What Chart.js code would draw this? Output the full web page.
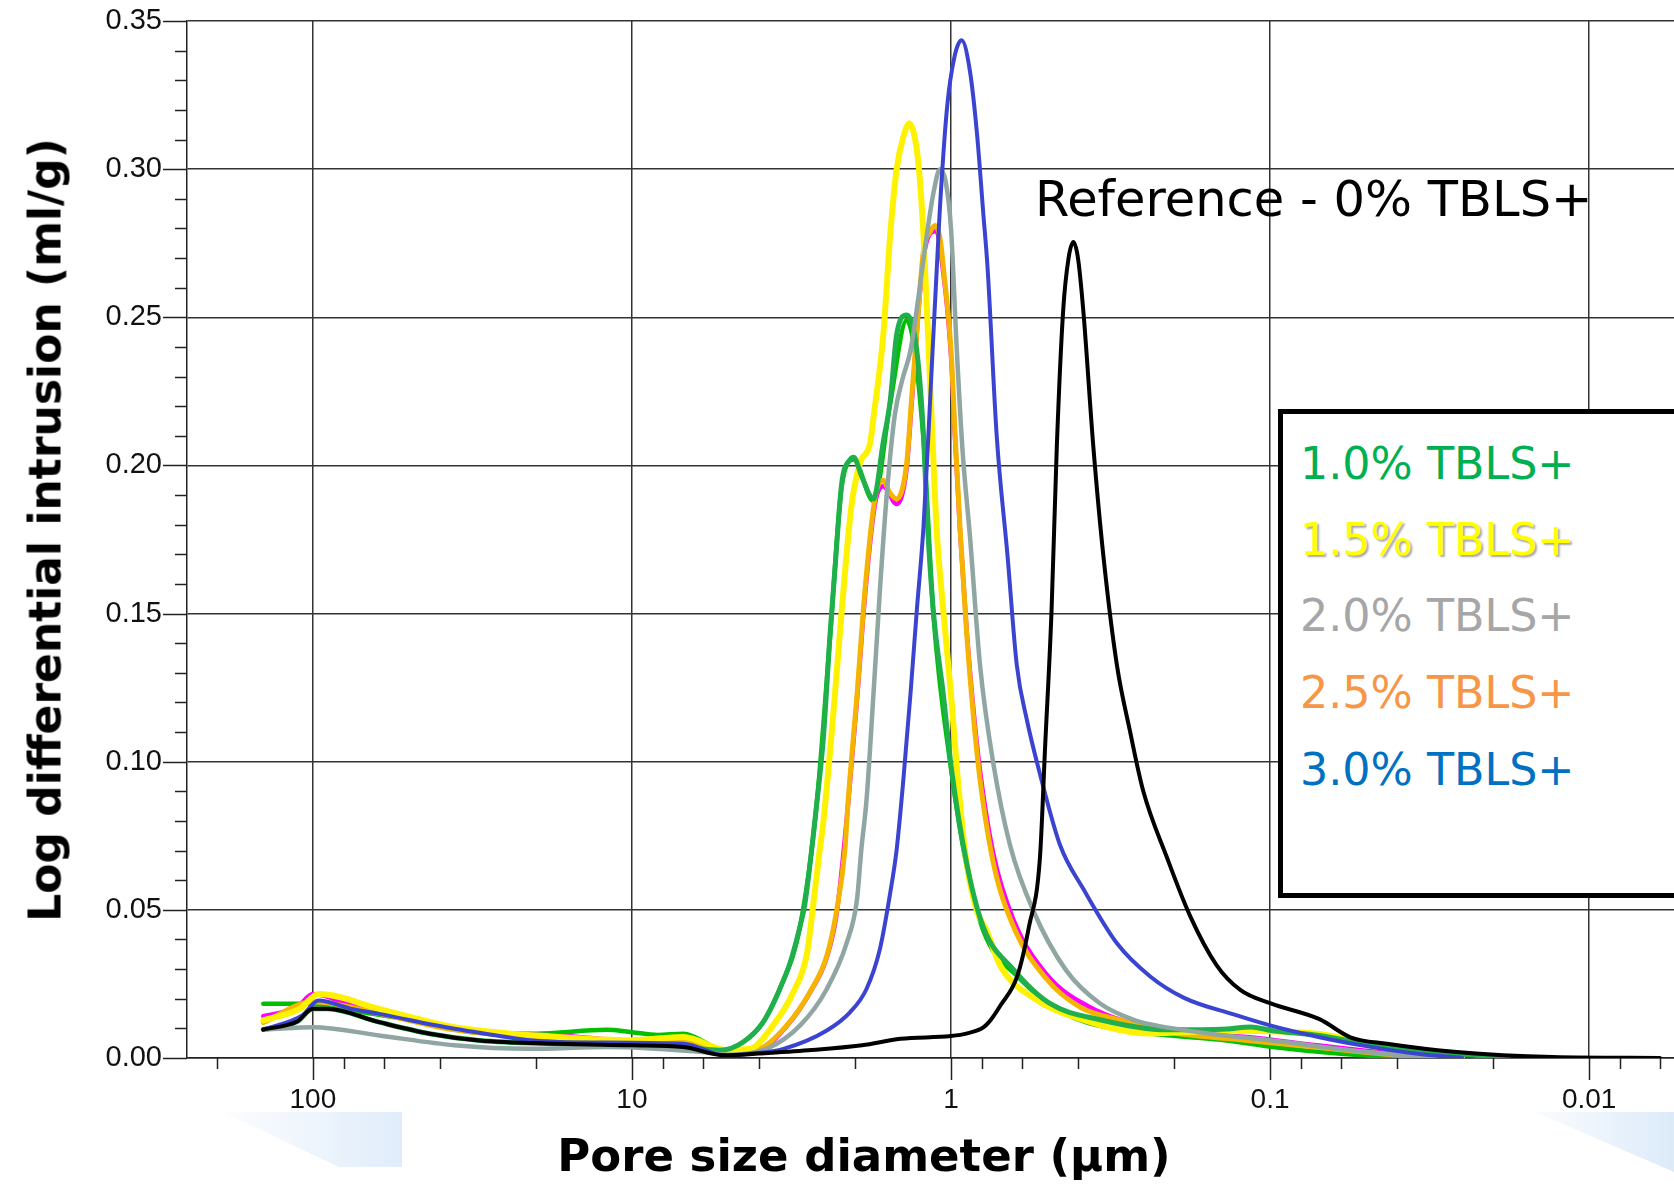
<!DOCTYPE html>
<html>
<head>
<meta charset="utf-8">
<script src="https://cdn.jsdelivr.net/npm/chart.js@4.4.1/dist/chart.umd.min.js"></script>
<style>
  html, body { margin: 0; padding: 0; background: #fff; overflow: hidden; }
  #wrap { position: relative; width: 1674px; height: 1186px; overflow: hidden; }
  #chart { position: absolute; left: 0; top: 0; }
  .deco { position: absolute; }
  .ytitle { position: absolute; left: 45px; top: 530px; transform: translate(-50%, -50%) rotate(-90deg);
            white-space: nowrap; font: bold 44px "DejaVu Sans", sans-serif; color: #000; }
  .xtitle { position: absolute; left: 864px; top: 1155px; transform: translate(-50%, -50%);
            white-space: nowrap; font: bold 45px "DejaVu Sans", sans-serif; color: #000; }
  .note { position: absolute; left: 1035px; top: 175px; white-space: nowrap;
          font: 49.5px/49.5px "DejaVu Sans", sans-serif; color: #000; }
  .legend-box { position: absolute; left: 1278px; top: 409px; width: 500px; height: 489px;
                box-sizing: border-box; border: 5px solid #000; background: #fff; }
  .legend-item { position: absolute; left: 1300px; white-space: nowrap; font: 44.4px/44.4px "DejaVu Sans", sans-serif; }
</style>
</head>
<body>
<div id="wrap">
  <div class="deco" style="left:222px;top:1112px;width:180px;height:55px;
       background:linear-gradient(90deg, rgba(225,238,250,0.1), rgba(218,233,249,0.85));
       clip-path:polygon(0 0,100% 0,100% 100%,65% 100%);"></div>
  <div class="deco" style="left:1535px;top:1112px;width:139px;height:60px;
       background:linear-gradient(90deg, rgba(225,238,250,0.15), rgba(214,231,248,0.85));
       clip-path:polygon(0 0,100% 0,100% 100%);"></div>
  <canvas id="chart" width="1674" height="1186"></canvas>
  <div class="ytitle">Log differential intrusion (ml/g)</div>
  <div class="xtitle">Pore size diameter (µm)</div>
  <div class="note">Reference - 0% TBLS+</div>
  <div class="legend-box"></div>
  <div class="legend-item" style="top:442px;color:#00B050;">1.0% TBLS+</div>
  <div class="legend-item" style="top:518px;color:#FFFF00;text-shadow:2px 2px 2px rgba(0,0,0,0.35);">1.5% TBLS+</div>
  <div class="legend-item" style="top:594px;color:#A6A6A6;">2.0% TBLS+</div>
  <div class="legend-item" style="top:671px;color:#F79646;">2.5% TBLS+</div>
  <div class="legend-item" style="top:748px;color:#0070C0;">3.0% TBLS+</div>
</div>
<script>
// pore diameters in µm (descending) and log differential intrusion in ml/g
const refDiam = [143, 112, 100, 90, 62, 43, 30, 17, 10, 6.9, 5.1, 4.0, 2.8, 1.9, 1.44, 1.0, 0.89, 0.79, 0.75, 0.70, 0.62, 0.57, 0.526, 0.507, 0.484, 0.466, 0.445, 0.428, 0.4135, 0.40, 0.385, 0.358, 0.333, 0.302, 0.275, 0.250, 0.211, 0.178, 0.147, 0.124, 0.100, 0.070, 0.056, 0.043, 0.026, 0.013, 0.006];
const refVals = [0.0096, 0.0123, 0.0166, 0.0166, 0.0121, 0.0082, 0.0059, 0.0048, 0.0043, 0.0037, 0.0009, 0.0015, 0.0026, 0.0043, 0.0065, 0.0074, 0.0083, 0.0104, 0.0129, 0.0177, 0.0276, 0.0442, 0.068, 0.105, 0.151, 0.2063, 0.2524, 0.270, 0.2754, 0.270, 0.2524, 0.2063, 0.1695, 0.1326, 0.1105, 0.0903, 0.068, 0.0479, 0.0313, 0.023, 0.0185, 0.0131, 0.007, 0.0048, 0.002, 0.0003, 0];

const tbls30Diam = [143, 108, 96, 75, 62, 36, 17, 6.9, 5.1, 4.2, 3.35, 2.45, 2.07, 1.84, 1.67, 1.55, 1.48, 1.41, 1.34, 1.28, 1.22, 1.174, 1.086, 1.029, 0.975, 0.926, 0.872, 0.829, 0.792, 0.768, 0.719, 0.665, 0.622, 0.578, 0.526, 0.455, 0.385, 0.302, 0.238, 0.186, 0.130, 0.100, 0.070, 0.050, 0.035, 0.025];
const tbls30Vals = [0.0096, 0.0144, 0.0194, 0.0165, 0.0149, 0.0099, 0.0054, 0.0048, 0.0009, 0.0015, 0.0031, 0.0093, 0.0155, 0.0233, 0.0368, 0.0558, 0.0704, 0.094, 0.1227, 0.151, 0.179, 0.2127, 0.2847, 0.3207, 0.338, 0.3435, 0.333, 0.312, 0.285, 0.2667, 0.21, 0.1695, 0.1326, 0.114, 0.0958, 0.0718, 0.0571, 0.0387, 0.0276, 0.0203, 0.0147, 0.011, 0.007, 0.004, 0.0015, 0];

const tbls20Diam = [139, 100, 62, 36, 21, 12, 5.7, 5.0, 3.78, 2.97, 2.45, 2.12, 1.97, 1.91, 1.84, 1.75, 1.67, 1.59, 1.50, 1.42, 1.34, 1.26, 1.19, 1.13, 1.083, 1.04, 1.0, 0.96, 0.92, 0.872, 0.811, 0.737, 0.653, 0.552, 0.435, 0.341, 0.268, 0.241, 0.15, 0.10, 0.05, 0.03];
const tbls20Vals = [0.0096, 0.0104, 0.0076, 0.0043, 0.0031, 0.0037, 0.0018, 0.0011, 0.0031, 0.011, 0.0233, 0.039, 0.0536, 0.0704, 0.087, 0.1227, 0.158, 0.19, 0.217, 0.229, 0.2387, 0.258, 0.278, 0.293, 0.300, 0.296, 0.28, 0.24, 0.205, 0.176, 0.1326, 0.0995, 0.0718, 0.0497, 0.0295, 0.0184, 0.0129, 0.0115, 0.008, 0.006, 0.002, 0];

const tbls10Diam = [143, 112, 100, 90, 62, 43, 30, 17, 10, 6.9, 5.3, 4.48, 3.88, 3.44, 3.19, 2.97, 2.87, 2.64, 2.51, 2.39, 2.31, 2.20, 2.07, 2.02, 1.90, 1.75, 1.63, 1.55, 1.48, 1.377, 1.28, 1.22, 1.19, 1.136, 1.057, 0.995, 0.894, 0.792, 0.639, 0.49, 0.341, 0.211, 0.137, 0.115, 0.098, 0.070, 0.0507, 0.0364, 0.0228, 0.018];
const tbls10Vals = [0.0096, 0.0123, 0.0166, 0.0166, 0.0121, 0.0082, 0.0059, 0.0048, 0.0043, 0.0037, 0.0026, 0.0054, 0.0121, 0.0233, 0.0323, 0.0446, 0.052, 0.085, 0.1085, 0.144, 0.165, 0.194, 0.202, 0.2028, 0.196, 0.1887, 0.208, 0.222, 0.2442, 0.2508, 0.2388, 0.2106, 0.184, 0.151, 0.1227, 0.097, 0.066, 0.0442, 0.030, 0.0184, 0.0129, 0.0095, 0.0098, 0.0105, 0.0092, 0.0076, 0.0048, 0.0026, 0.0009, 0];

const tbls15Diam = [143, 110, 96, 62, 36, 17, 10, 6.9, 5.0, 4.26, 3.61, 3.12, 2.83, 2.70, 2.58, 2.51, 2.34, 2.20, 2.05, 1.93, 1.79, 1.75, 1.63, 1.55, 1.48, 1.41, 1.35, 1.30, 1.26, 1.22, 1.18, 1.15, 1.11, 1.057, 1.0, 0.952, 0.894, 0.83, 0.773, 0.702, 0.552, 0.385, 0.238, 0.137, 0.07, 0.05, 0.03, 0.025];
const tbls15Vals = [0.0127, 0.0166, 0.0216, 0.0166, 0.0104, 0.0071, 0.006, 0.0071, 0.0026, 0.0031, 0.011, 0.0222, 0.035, 0.052, 0.07, 0.080, 0.1156, 0.151, 0.1865, 0.2007, 0.2078, 0.216, 0.244, 0.278, 0.300, 0.311, 0.3154, 0.311, 0.300, 0.278, 0.244, 0.216, 0.179, 0.151, 0.1227, 0.094, 0.066, 0.0497, 0.043, 0.0313, 0.0203, 0.0129, 0.0083, 0.0092, 0.0081, 0.0048, 0.001, 0];

const tbls25Diam = [143, 100, 62, 36, 17, 10, 6.9, 5.1, 3.97, 3.27, 2.77, 2.45, 2.28, 2.15, 2.10, 1.97, 1.86, 1.73, 1.63, 1.56, 1.48, 1.377, 1.33, 1.28, 1.22, 1.16, 1.12, 1.08, 1.057, 1.0, 0.971, 0.937, 0.894, 0.851, 0.811, 0.737, 0.639, 0.5, 0.394, 0.3, 0.2, 0.12, 0.07, 0.04, 0.025];
const tbls25Vals = [0.012, 0.019, 0.015, 0.0095, 0.0065, 0.0055, 0.0055, 0.0015, 0.0031, 0.011, 0.0222, 0.0345, 0.05, 0.0704, 0.087, 0.1227, 0.158, 0.189, 0.195, 0.191, 0.1887, 0.2007, 0.222, 0.245, 0.2724, 0.279, 0.281, 0.276, 0.267, 0.239, 0.2106, 0.179, 0.144, 0.1156, 0.094, 0.066, 0.0447, 0.0265, 0.0172, 0.013, 0.0085, 0.006, 0.0035, 0.001, 0];

// unlabelled replicate runs visible in the plot
const magentaDiam = [143, 112, 100, 75, 52, 30, 17, 10, 6.9, 5.1, 3.97, 3.27, 2.77, 2.45, 2.28, 2.10, 1.97, 1.86, 1.73, 1.63, 1.48, 1.377, 1.33, 1.22, 1.12, 1.057, 1.0, 0.971, 0.937, 0.894, 0.851, 0.811, 0.737, 0.639, 0.5, 0.372, 0.226, 0.116, 0.07, 0.036, 0.025];
const magentaVals = [0.0141, 0.0172, 0.0216, 0.0177, 0.0138, 0.0087, 0.0076, 0.006, 0.006, 0.002, 0.003, 0.0108, 0.022, 0.034, 0.049, 0.086, 0.121, 0.156, 0.187, 0.193, 0.187, 0.199, 0.220, 0.270, 0.279, 0.265, 0.237, 0.209, 0.178, 0.145, 0.118, 0.097, 0.069, 0.047, 0.028, 0.0175, 0.0098, 0.007, 0.0042, 0.0009, 0];

const limeDiam = [143, 112, 100, 75, 52, 30, 20, 12, 10, 8.3, 6.9, 5.1, 4.48, 3.88, 3.44, 2.97, 2.64, 2.39, 2.20, 2.02, 1.75, 1.55, 1.377, 1.22, 1.136, 0.995, 0.894, 0.792, 0.612, 0.44, 0.315, 0.2, 0.137, 0.098, 0.06, 0.04, 0.03];
const limeVals = [0.0183, 0.0183, 0.0183, 0.016, 0.0132, 0.0085, 0.0082, 0.0095, 0.0087, 0.0078, 0.0082, 0.0026, 0.0054, 0.0121, 0.0233, 0.0446, 0.085, 0.143, 0.193, 0.202, 0.188, 0.221, 0.249, 0.209, 0.150, 0.096, 0.065, 0.043, 0.027, 0.015, 0.010, 0.0075, 0.0059, 0.0037, 0.0014, 0.0003, 0];

// axis ticks
const xLabelValues = [100, 10, 1, 0.1, 0.01];
const xLabels = ['100', '10', '1', '0.1', '0.01'];
const xMinorValues = [200, 80, 60, 40, 20, 8, 6, 4, 2, 0.8, 0.6, 0.4, 0.2, 0.08, 0.06, 0.04, 0.02, 0.008, 0.006];
const yTickValues = [0, 0.01, 0.02, 0.03, 0.04, 0.05, 0.06, 0.07, 0.08, 0.09, 0.10, 0.11, 0.12, 0.13, 0.14, 0.15, 0.16, 0.17, 0.18, 0.19, 0.20, 0.21, 0.22, 0.23, 0.24, 0.25, 0.26, 0.27, 0.28, 0.29, 0.30, 0.31, 0.32, 0.33, 0.34, 0.35];
const yLabelValues = [0, 0.05, 0.10, 0.15, 0.20, 0.25, 0.30, 0.35];
const yLabels = ['0.00', '0.05', '0.10', '0.15', '0.20', '0.25', '0.30', '0.35'];

function toPoints(diam, vals) {
  return diam.map((d, i) => ({ x: d, y: vals[i] }));
}

function isXMajor(v) {
  return xLabelValues.some(m => Math.abs(m - v) / m < 1e-6);
}
function isYMajor(v) {
  return yLabelValues.some(m => Math.abs(m - v) < 1e-6);
}

// listed top-most first
const datasets = [
  { data: toPoints(refDiam, refVals), borderColor: '#000000', borderWidth: 4 },
  { data: toPoints(tbls30Diam, tbls30Vals), borderColor: '#3B44D0', borderWidth: 4 },
  { data: toPoints(tbls20Diam, tbls20Vals), borderColor: '#8FA6A2', borderWidth: 4.5 },
  { data: toPoints(tbls10Diam, tbls10Vals), borderColor: '#1FAF4B', borderWidth: 5 },
  { data: toPoints(tbls15Diam, tbls15Vals), borderColor: '#FFF200', borderWidth: 6 },
  { data: toPoints(tbls25Diam, tbls25Vals), borderColor: '#F4B400', borderWidth: 5 },
  { data: toPoints(magentaDiam, magentaVals), borderColor: '#FF00FF', borderWidth: 4.5 },
  { data: toPoints(limeDiam, limeVals), borderColor: '#00C000', borderWidth: 4.5 }
];

const tickMarks = {
  id: 'tickMarks',
  afterDraw(chart) {
    const { ctx, scales: { x, y } } = chart;
    ctx.save();
    ctx.strokeStyle = '#222';
    ctx.lineWidth = 1.5;
    ctx.beginPath();
    x.ticks.forEach(t => {
      const px = Math.round(x.getPixelForValue(t.value)) + 0.5;
      const len = isXMajor(t.value) ? 22 : 11;
      ctx.moveTo(px, x.top);
      ctx.lineTo(px, x.top + len);
    });
    y.ticks.forEach(t => {
      const py = Math.round(y.getPixelForValue(t.value)) + 0.5;
      const len = isYMajor(t.value) ? 24 : 12;
      ctx.moveTo(y.right, py);
      ctx.lineTo(y.right - len, py);
    });
    ctx.stroke();
    ctx.restore();
  }
};

new Chart(document.getElementById('chart'), {
  type: 'line',
  data: { datasets: datasets },
  options: {
    responsive: false,
    animation: false,
    layout: { padding: { top: 21, left: 0, right: 0, bottom: 0 } },
    plugins: { legend: { display: false }, tooltip: { enabled: false } },
    elements: {
      point: { radius: 0 },
      line: { cubicInterpolationMode: 'monotone', borderJoinStyle: 'round', borderCapStyle: 'round' }
    },
    scales: {
      x: {
        type: 'logarithmic',
        reverse: true,
        min: 0.00542,
        max: 248,
        bounds: 'data',
        afterBuildTicks: scale => {
          scale.ticks = xLabelValues.concat(xMinorValues).sort((a, b) => b - a).map(v => ({ value: v }));
        },
        afterFit: scale => {
          scale.height = 128;
          scale.paddingLeft = 0;
          scale.paddingRight = 0;
        },
        grid: {
          drawTicks: false,
          lineWidth: 1.5,
          color: c => (c.tick && isXMajor(c.tick.value)) ? '#333' : 'rgba(0,0,0,0)'
        },
        border: { color: '#222', width: 1.5 },
        ticks: {
          autoSkip: false,
          maxRotation: 0,
          minRotation: 0,
          major: { enabled: false },
          padding: 25,
          color: '#111',
          font: { family: 'Liberation Sans', size: 28 },
          callback: v => {
            const i = xLabelValues.findIndex(m => Math.abs(m - v) / m < 1e-6);
            return i >= 0 ? xLabels[i] : '';
          }
        }
      },
      y: {
        min: 0,
        max: 0.35,
        afterBuildTicks: scale => {
          scale.ticks = yTickValues.map(v => ({ value: v }));
        },
        afterFit: scale => {
          scale.width = 187;
          scale.paddingTop = 0;
          scale.paddingBottom = 0;
        },
        grid: {
          drawTicks: false,
          lineWidth: 1.5,
          color: c => (c.tick && isYMajor(c.tick.value)) ? '#333' : 'rgba(0,0,0,0)'
        },
        border: { color: '#222', width: 1.5 },
        ticks: {
          autoSkip: false,
          padding: 25,
          color: '#111',
          font: { family: 'Liberation Sans', size: 29 },
          callback: v => {
            const i = yLabelValues.findIndex(m => Math.abs(m - v) < 1e-6);
            return i >= 0 ? yLabels[i] : '';
          }
        }
      }
    }
  },
  plugins: [tickMarks]
});
</script>
</body>
</html>
